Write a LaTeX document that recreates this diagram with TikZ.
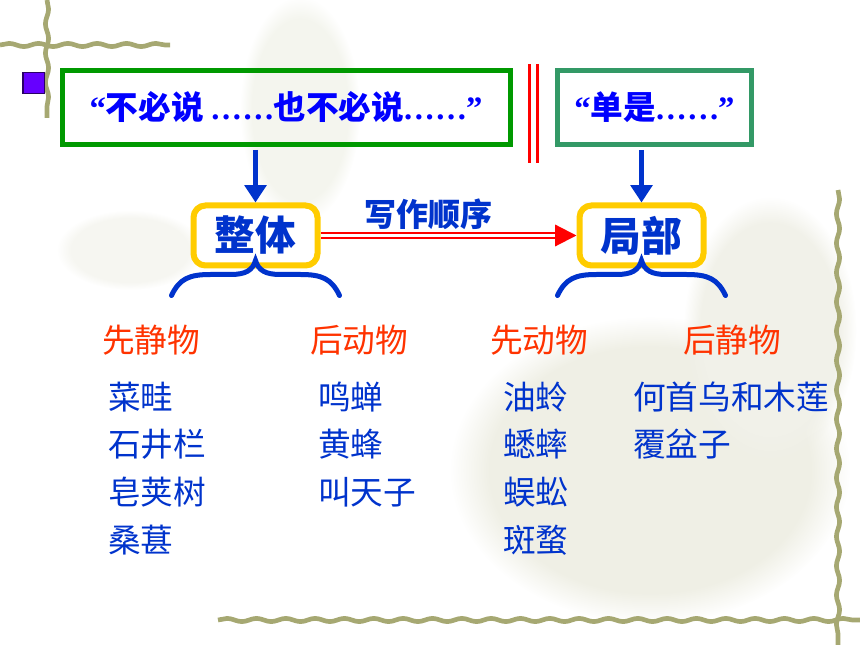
\documentclass[tikz,border=0pt]{standalone}
\usepackage{fontspec}
\setmainfont{Liberation Serif}
\newfontfamily\cjk{Noto Sans CJK SC}
\newfontfamily\cjkheavy{Noto Sans CJK SC Black}
\newfontfamily\latdots[LetterSpace=8]{Liberation Serif}
\usepackage{tikz}
\usetikzlibrary{arrows.meta, positioning, calc, decorations.pathmorphing, fadings}
\definecolor{quoteblue}{HTML}{0000FF}
\definecolor{itemblue}{HTML}{0033CC}
\definecolor{headred}{HTML}{FF3300}
\definecolor{boxgreen}{HTML}{009900}
\definecolor{seagreen}{HTML}{339966}
\definecolor{keyyellow}{HTML}{FFCC00}
\definecolor{bulletpurple}{HTML}{6600FF}
\definecolor{vinegreen}{HTML}{A6A872}

\newcommand{\qopen}{{\rmfamily\bfseries “}}
\newcommand{\qclose}{{\rmfamily\bfseries ”}}
\newcommand{\dotsix}{{\latdots\bfseries ......}}

\begin{document}
\begin{tikzpicture}[
    x=0.75pt, y=-0.75pt,
    quotebox/.style={draw,line width=3.75pt,minimum height=56pt,inner sep=0pt,font=\cjk\bfseries\fontsize{24.5}{28}\selectfont,text=quoteblue},
    keybox/.style={draw=keyyellow,line width=4.5pt,rounded corners=9pt,fill=white,minimum width=93pt,minimum height=45pt,inner sep=0pt,font=\cjkheavy\fontsize{30.5}{34}\selectfont,text=itemblue},
    colhead/.style={anchor=west,inner sep=0pt,font=\cjk\fontsize{24.5}{28}\selectfont,text=headred},
    entry/.style={anchor=west,inner sep=0pt,font=\cjk\fontsize{24.5}{28}\selectfont,text=itemblue},
    downarrow/.style={itemblue,line width=3.75pt,-{Triangle[length=13pt,width=16pt]}},
    bracket/.style={itemblue,line width=3.75pt,line cap=round},
    vine/.style={vinegreen,line width=3.5pt,decorate,decoration={snake,segment length=22pt,amplitude=1.2pt}},
    blob/.style={path fading=circle with fuzzy edge 20 percent},
  ]
    \useasboundingbox (0,0) rectangle (860,645);

    % faded background
    \fill[vinegreen!18, blob] (650,470) ellipse [x radius=150pt, y radius=115pt];
    \fill[vinegreen!16, blob] (770,330) ellipse [x radius=65pt, y radius=100pt];
    \fill[vinegreen!12, blob] (300,110) ellipse [x radius=45pt, y radius=85pt];
    \fill[vinegreen!10, blob] (130,250) ellipse [x radius=55pt, y radius=30pt];

    % vines
    \draw[vine] (47,0) -- (47,118);
    \draw[vine] (0,45) -- (170,45);
    \draw[vine] (838,190) -- (838,645);
    \draw[vine] (218,620) -- (860,620);

    % top row
    \node[fill=bulletpurple,draw=bulletpurple!40!black,line width=1pt,minimum size=16pt,inner sep=0pt] (bullet) at (33.5,83) {};
    \node[quotebox,draw=boxgreen,minimum width=336pt] (budisuo) at (286,107.5)
      {\qopen 不必说 \dotsix 也不必说\dotsix\qclose};
    \node[quotebox,draw=seagreen,minimum width=146pt] (danshi) at (654.5,107.5)
      {\qopen 单是\dotsix\qclose};
    \draw[red,double=white,double distance=3.75pt,line width=2.25pt] (533,64) -- (533,163);

    % whole and part
    \node[keybox] (zhengti) at (255.5,235.5) {整体};
    \node[keybox] (jubu) at (641.5,235.5) {局部};

    \draw[downarrow,shorten <=2pt] (zhengti.north |- budisuo.south) -- (zhengti.north);
    \draw[downarrow,shorten <=2pt] (jubu.north |- danshi.south) -- (jubu.north);

    \draw[red,double=white,double distance=2.2pt,line width=1.6pt,-{Triangle[length=16pt,width=16pt]}] (zhengti.east) -- node[pos=0.42,above=0pt,font=\cjk\bfseries\fontsize{24}{28}\selectfont,text=itemblue] (order) {写作顺序} (jubu.west);

    \draw[bracket,shift={(zhengti.south)}] (-84,27) .. controls (-76,10) and (-66,6) .. (-45,6) -- (-25,6) .. controls (-10,6) and (-3,2) .. (0,-8) .. controls (3,2) and (10,6) .. (25,6) -- (45,6) .. controls (66,6) and (76,10) .. (84,27);
    \draw[bracket,shift={(jubu.south)}] (-84,27) .. controls (-76,10) and (-66,6) .. (-45,6) -- (-25,6) .. controls (-10,6) and (-3,2) .. (0,-8) .. controls (3,2) and (10,6) .. (25,6) -- (45,6) .. controls (66,6) and (76,10) .. (84,27);

    % columns
    \node[colhead] (head1) at (102,340) {先静物};
    \node[colhead] (head2) at (310,340) {后动物};
    \node[colhead] (head3) at (490,340) {先动物};
    \node[colhead] (head4) at (683,340) {后静物};

    \node[entry] (caiqi) at (108,397) {菜畦};
    \node[entry] (shijinglan) at (108,444) {石井栏};
    \node[entry] (zaojiaoshu) at (108,492) {皂荚树};
    \node[entry] (sangshen) at (108,540) {桑葚};

    \node[entry] (mingchan) at (318,397) {鸣蝉};
    \node[entry] (huangfeng) at (318,444) {黄蜂};
    \node[entry] (jiaotianzi) at (318,492) {叫天子};

    \node[entry] (youling) at (503,397) {油蛉};
    \node[entry] (xishuai) at (503,444) {蟋蟀};
    \node[entry] (wugong) at (503,492) {蜈蚣};
    \node[entry] (banmao) at (503,540) {斑蝥};

    \node[entry] (heshouwu) at (633,397) {何首乌和木莲};
    \node[entry] (fupenzi) at (633,444) {覆盆子};
\end{tikzpicture}
\end{document}
